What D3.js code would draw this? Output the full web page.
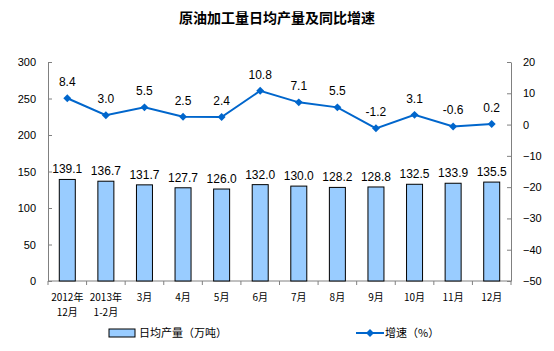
<!DOCTYPE html>
<html>
<head>
<meta charset="utf-8">
<script src="https://cdn.jsdelivr.net/npm/d3@7"></script>
<style>
body { margin: 0; background: #fff; }
svg { font-family: Arial, "Liberation Sans", "Noto Sans CJK SC", sans-serif; }
</style>
</head>
<body>
<svg id="chart" width="554" height="351"></svg>
<script>
let months = ["2012年\n12月", "2013年\n1-2月", "3月", "4月", "5月", "6月", "7月", "8月", "9月", "10月", "11月", "12月"];
let output = [139.1, 136.7, 131.7, 127.7, 126.0, 132.0, 130.0, 128.2, 128.8, 132.5, 133.9, 135.5];
let growth = [8.4, 3.0, 5.5, 2.5, 2.4, 10.8, 7.1, 5.5, -1.2, 3.1, -0.6, 0.2];
let leftTicks = [0, 50, 100, 150, 200, 250, 300];
let rightTicks = [-50, -40, -30, -20, -10, 0, 10, 20];

let svg = d3.select("#chart");
let margin = {left: 48, right: 43, top: 62, bottom: 70};
let width = 554, height = 351;
let cjk = "'Noto Sans CJK SC', sans-serif";

let x = d3.scaleBand().domain(months).range([margin.left, width - margin.right]);
let y = d3.scaleLinear().domain([0, 300]).range([height - margin.bottom, margin.top]);
let y2 = d3.scaleLinear().domain([-50, 20]).range([height - margin.bottom, margin.top]);

svg.append("text")
  .attr("x", 277).attr("y", 23)
  .attr("text-anchor", "middle")
  .style("font-family", cjk).style("font-size", "14px").style("font-weight", "bold")
  .text("原油加工量日均产量及同比增速");

// left axis
let axL = svg.append("g").attr("transform", `translate(${margin.left},0)`)
  .call(d3.axisLeft(y).tickValues(leftTicks).tickSizeInner(-4).tickSizeOuter(0).tickPadding(12));
// right axis
let axR = svg.append("g").attr("transform", `translate(${width - margin.right},0)`)
  .call(d3.axisRight(y2).tickValues(rightTicks).tickSizeInner(-4).tickSizeOuter(0).tickPadding(12));
[axL, axR].forEach(g => {
  g.select(".domain").attr("stroke", "#808080");
  g.selectAll(".tick line").attr("stroke", "#808080");
  g.selectAll(".tick text").style("font-size", "11px").attr("fill", "#000");
});

// bottom axis line + ticks between categories
let base = y(0);
svg.append("line").attr("x1", margin.left).attr("x2", width - margin.right)
  .attr("y1", base).attr("y2", base).attr("stroke", "#808080");
svg.selectAll(".xtick").data(d3.range(months.length + 1)).join("line")
  .attr("x1", i => margin.left + i * x.step()).attr("x2", i => margin.left + i * x.step())
  .attr("y1", base).attr("y2", base + 4).attr("stroke", "#808080");

svg.selectAll(".xlab").data(months).join("text")
  .attr("text-anchor", "middle")
  .style("font-family", cjk).style("font-size", "10px")
  .each(function(d) {
    let lines = d.split("\n");
    d3.select(this).selectAll("tspan").data(lines).join("tspan")
      .attr("x", x(d) + x.bandwidth() / 2)
      .attr("y", (l, i) => base + 20 + i * 15)
      .text(l => l);
  });

// bars
let bw = 16;
svg.selectAll(".bar").data(output).join("rect")
  .attr("x", (d, i) => x(months[i]) + x.bandwidth() / 2 - bw / 2)
  .attr("y", d => y(d))
  .attr("width", bw)
  .attr("height", d => base - y(d))
  .attr("fill", "#99ccff").attr("stroke", "#000").attr("stroke-width", 1);

svg.selectAll(".blab").data(output).join("text")
  .attr("x", (d, i) => x(months[i]) + x.bandwidth() / 2)
  .attr("y", d => y(d) - 6)
  .attr("text-anchor", "middle").style("font-size", "12px")
  .text(d => d.toFixed(1));

// line
let cx = i => x(months[i]) + x.bandwidth() / 2;
svg.append("path").datum(growth)
  .attr("fill", "none").attr("stroke", "#0066cc").attr("stroke-width", 2)
  .attr("d", d3.line().x((d, i) => cx(i)).y(d => y2(d)));
svg.selectAll(".mk").data(growth).join("path")
  .attr("transform", (d, i) => `translate(${cx(i)},${y2(d)})`)
  .attr("d", d3.symbol(d3.symbolDiamond2, 40))
  .attr("fill", "#0066cc");
svg.selectAll(".glab").data(growth).join("text")
  .attr("x", (d, i) => cx(i))
  .attr("y", d => y2(d) - 12)
  .attr("text-anchor", "middle").style("font-size", "12px")
  .text(d => d.toFixed(1));

// legend
let ly = 333;
svg.append("rect").attr("x", 109).attr("y", ly - 4).attr("width", 26).attr("height", 8)
  .attr("fill", "#99ccff").attr("stroke", "#000");
svg.append("text").attr("x", 139).attr("y", ly + 4).style("font-family", cjk).style("font-size", "11px")
  .text("日均产量（万吨）");
svg.append("line").attr("x1", 356).attr("x2", 384).attr("y1", ly).attr("y2", ly)
  .attr("stroke", "#0066cc").attr("stroke-width", 2);
svg.append("path").attr("transform", `translate(370,${ly})`)
  .attr("d", d3.symbol(d3.symbolDiamond2, 40)).attr("fill", "#0066cc");
svg.append("text").attr("x", 385).attr("y", ly + 4).style("font-family", cjk).style("font-size", "11px")
  .text("增速（%）");
</script>
</body>
</html>
